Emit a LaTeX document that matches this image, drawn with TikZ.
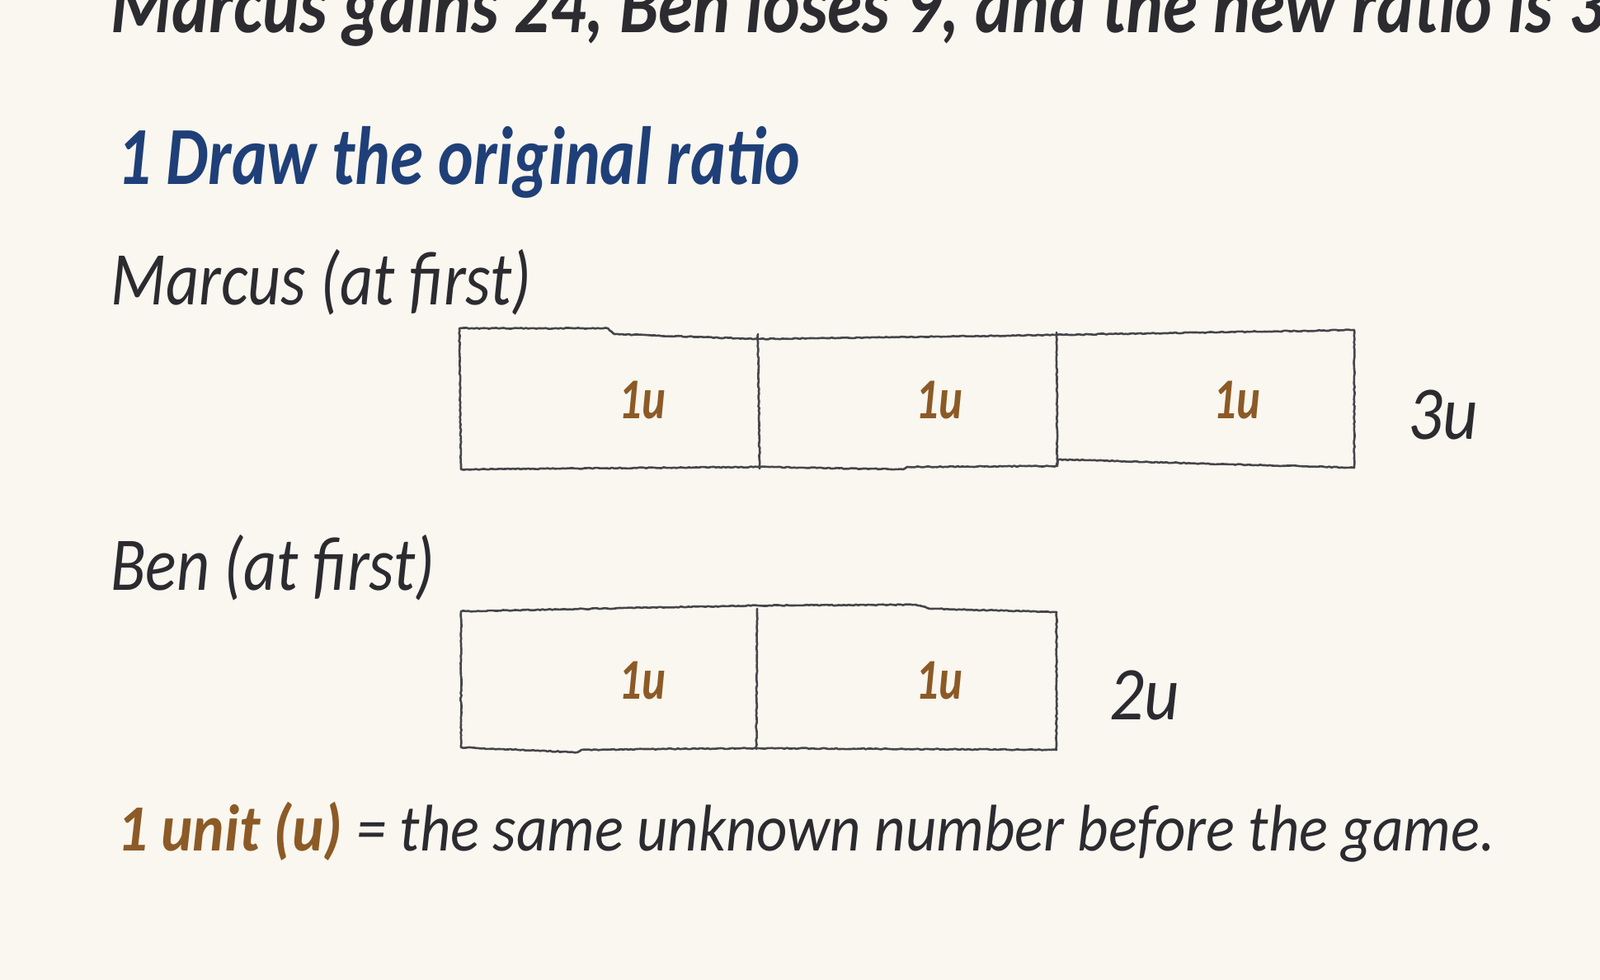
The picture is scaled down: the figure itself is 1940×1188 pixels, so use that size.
\documentclass[tikz,border=0pt]{standalone}
\usepackage{fontspec}
\newfontfamily\handhead[FakeStretch=0.81]{Carlito}
\newfontfamily\handtop[FakeStretch=0.85]{Carlito}
\newfontfamily\handlab[FakeStretch=0.85]{Carlito}
\newfontfamily\handunit[FakeStretch=0.78]{Carlito}
\newfontfamily\handtot[FakeStretch=0.9]{Carlito}
\newfontfamily\handdef[FakeStretch=0.91]{Carlito}
\usetikzlibrary{decorations.pathmorphing}
\definecolor{bg}{HTML}{F9F7EF}
\definecolor{ink}{HTML}{2B2B30}
\definecolor{navy}{HTML}{1F3F78}
\definecolor{umber}{HTML}{8C5A26}
\definecolor{pencil}{HTML}{45454B}
\begin{document}
\begin{tikzpicture}[x=1pt,y=-1pt,
  txt/.style={anchor=base west, inner sep=0pt, text=ink},
  topfont/.style={font=\handtop\itshape\bfseries\fontsize{100}{110}\selectfont},
  headfont/.style={font=\handhead\itshape\bfseries\fontsize{100}{110}\selectfont},
  lab/.style={font=\handlab\itshape\fontsize{92}{100}\selectfont},
  ulab/.style={anchor=base, inner sep=0pt, text=umber, font=\handunit\itshape\bfseries\fontsize{70}{80}\selectfont},
  tot/.style={anchor=base west, inner sep=0pt, text=ink, font=\handtot\itshape\fontsize{92}{100}\selectfont},
  ubox/.style={draw=none, inner sep=0pt, minimum width=362pt},
  pencil/.style={draw=pencil, line width=2.6pt, line join=round, line cap=round,
    decorate, decoration={random steps, segment length=3pt, amplitude=0.6pt}}
]
\useasboundingbox (0,0) rectangle (1940,1188);
\clip (0,0) rectangle (1940,1188);
\fill[bg] (0,0) rectangle (1940,1188);

% texts
\node[txt, topfont] (top) at (134,40) {Marcus gains 24, Ben loses 9, and the new ratio is 3};
\node[txt, headfont, text=navy] (head) at (142,223) {1 Draw the original ratio};
\node[txt, lab] (mlab) at (134,369) {Marcus (at first)};
\node[txt, lab] (blab) at (134,715) {Ben (at first)};

% Marcus boxes
\node[ubox, minimum height=165pt] (m1) at (738,485) {};
\node[ubox, minimum height=165pt] (m2) at (1100,485) {};
\node[ubox, minimum height=165pt] (m3) at (1461,485) {};
\draw[pencil] (557,398) -- (737,398) -- (745,405) -- (919,411) -- (1281,406) -- (1642,400)
  -- (1642,567) -- (1283,557) -- (1281,565) -- (1100,566) -- (1095,569) -- (919,566)
  -- (559,569) -- cycle;
\draw[pencil] (919,405) -- (921,568);
\draw[pencil] (1281,403) -- (1282,565);
\node[ulab] (m1l) at (779,507) {1u};
\node[ulab] (m2l) at (1139,507) {1u};
\node[ulab] (m3l) at (1500,507) {1u};
\node[tot] (m3u) at (1707,532) {3u};

% Ben boxes
\node[ubox, minimum height=170pt] (b1) at (738,824) {};
\node[ubox, minimum height=170pt] (b2) at (1100,824) {};
\draw[pencil] (559,741) -- (918,734) -- (1110,733) -- (1130,738) -- (1281,742)
  -- (1281,909) -- (918,907) -- (705,909) -- (700,912) -- (559,906) -- cycle;
\draw[pencil] (918,738) -- (917,908);
\node[ulab] (b1l) at (779,847) {1u};
\node[ulab] (b2l) at (1139,847) {1u};
\node[tot] (b2u) at (1345,872) {2u};

% definition
\node[txt, font=\handdef\itshape\fontsize{80}{90}\selectfont] (def) at (142,1031)
  {\textcolor{umber}{\bfseries 1 unit (u)} = the same unknown number before the game.};
\end{tikzpicture}
\end{document}
